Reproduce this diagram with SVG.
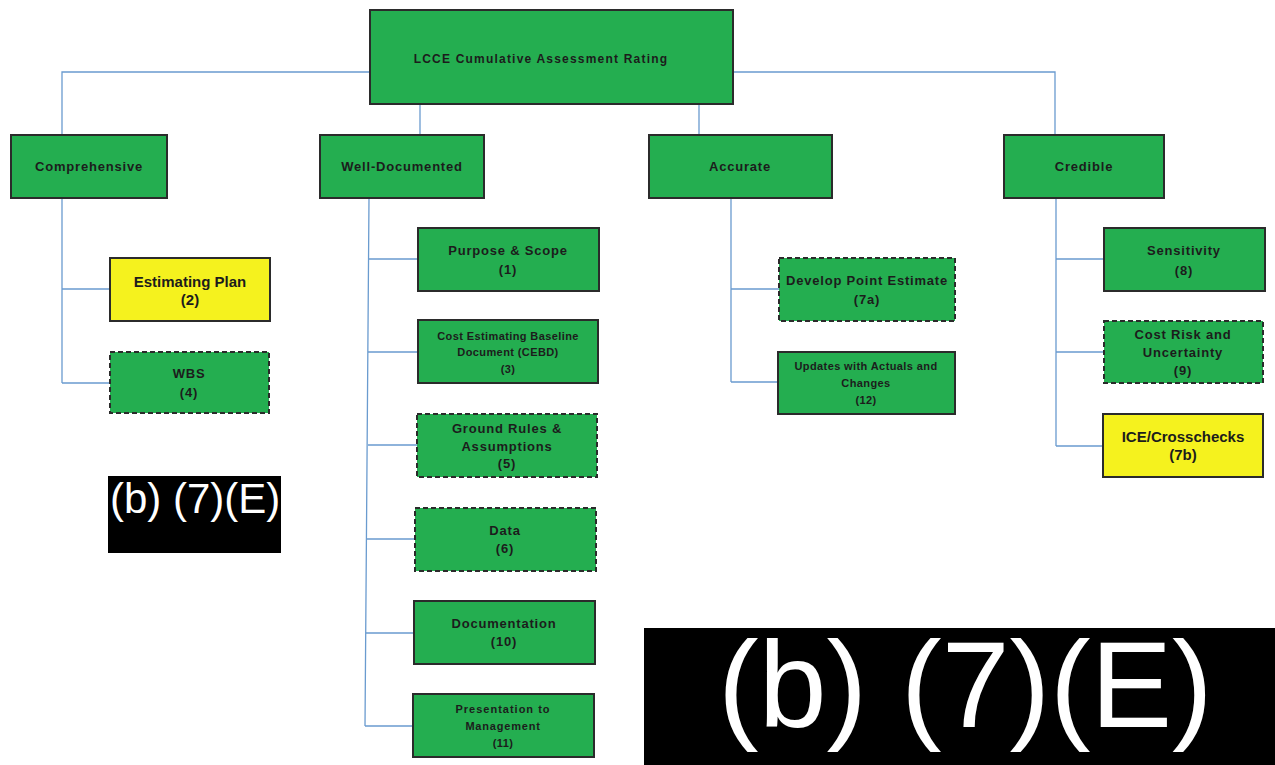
<svg xmlns="http://www.w3.org/2000/svg" width="1275" height="765" viewBox="0 0 1275 765">
<style>
.g{fill:#24ae50;stroke:#2b2b2b;stroke-width:2}
.y{fill:#f5f21e;stroke:#2b2b2b;stroke-width:2}
.d{stroke-dasharray:5 3}
.c{fill:none;stroke:#6a9bcf;stroke-width:1.3}
text{font-family:"Liberation Sans",Arial,sans-serif;font-weight:bold;fill:#1c1c1c;text-anchor:middle}
.t12{font-size:12px;letter-spacing:1.2px}
.t13{font-size:13px;letter-spacing:0.8px}
.t11{font-size:11px;letter-spacing:0.4px}
.t15{font-size:15px}
.r{fill:#000}
.rt{fill:#fff;font-weight:normal;text-anchor:start;letter-spacing:0}
</style>
<rect width="1275" height="765" fill="#fff"/>
<g id="connectors">
<path class="c" d="M62,135 V72 H370 M733,72 H1055 V135 M420,104 V135 M699,104 V135"/>
<path class="c" d="M62,198 V383 M62,289 H110 M62,383 H110"/>
<path class="c" d="M369,198 L365,726 M369,259 H418 M368,352 H418 M368,445 H417 M367,539 H415 M366,633 H414 M365,726 H413"/>
<path class="c" d="M731,198 V382 M731,289 H779 M731,382 H778"/>
<path class="c" d="M1056,198 V446 M1056,259 H1104 M1056,352 H1104 M1056,446 H1103"/>
</g>
<g id="root"><rect class="g" x="370" y="10" width="363" height="94"/><text class="t12" x="541" y="63">LCCE Cumulative Assessment Rating</text></g>
<g id="comprehensive"><rect class="g" x="11" y="135" width="156" height="63"/><text class="t13" x="89" y="171">Comprehensive</text></g>
<g id="well-documented"><rect class="g" x="320" y="135" width="164" height="63"/><text class="t13" x="402" y="171">Well-Documented</text></g>
<g id="accurate"><rect class="g" x="649" y="135" width="183" height="63"/><text class="t13" x="740" y="171">Accurate</text></g>
<g id="credible"><rect class="g" x="1004" y="135" width="160" height="63"/><text class="t13" x="1084" y="171">Credible</text></g>

<g id="estimating-plan"><rect class="y" x="110" y="258" width="160" height="63"/><text class="t15" x="190" y="287">Estimating Plan</text><text class="t15" x="190" y="305">(2)</text></g>
<g id="wbs"><rect class="g d" x="110" y="352" width="159" height="61"/><text class="t13" x="189" y="378">WBS</text><text class="t13" x="189" y="397">(4)</text></g>

<g id="purpose-scope"><rect class="g" x="418" y="228" width="181" height="63"/><text class="t13" x="508" y="255">Purpose &amp; Scope</text><text class="t13" x="508" y="274">(1)</text></g>
<g id="cebd"><rect class="g" x="418" y="320" width="180" height="63"/><text class="t11" x="508" y="340">Cost Estimating Baseline</text><text class="t11" x="508" y="356">Document (CEBD)</text><text class="t11" x="508" y="373">(3)</text></g>
<g id="ground-rules"><rect class="g d" x="417" y="414" width="180" height="63"/><text class="t13" x="507" y="433">Ground Rules &amp;</text><text class="t13" x="507" y="451">Assumptions</text><text class="t13" x="507" y="468">(5)</text></g>
<g id="data"><rect class="g d" x="415" y="508" width="181" height="63"/><text class="t13" x="505" y="535">Data</text><text class="t13" x="505" y="553">(6)</text></g>
<g id="documentation"><rect class="g" x="414" y="601" width="181" height="63"/><text class="t13" x="504" y="628">Documentation</text><text class="t13" x="504" y="646">(10)</text></g>
<g id="presentation"><rect class="g" x="413" y="694" width="181" height="63"/><text class="t11" x="503" y="713" style="letter-spacing:1px">Presentation to</text><text class="t11" x="503" y="730" style="letter-spacing:0.8px">Management</text><text class="t11" x="503" y="747">(11)</text></g>

<g id="develop-point-estimate"><rect class="g d" x="779" y="258" width="176" height="63"/><text class="t13" x="867" y="285">Develop Point Estimate</text><text class="t13" x="867" y="304">(7a)</text></g>
<g id="updates"><rect class="g" x="778" y="352" width="177" height="62"/><text class="t11" x="866" y="370">Updates with Actuals and</text><text class="t11" x="866" y="387">Changes</text><text class="t11" x="866" y="404">(12)</text></g>

<g id="sensitivity"><rect class="g" x="1104" y="228" width="161" height="63"/><text class="t13" x="1184" y="255">Sensitivity</text><text class="t13" x="1184" y="275">(8)</text></g>
<g id="cost-risk"><rect class="g d" x="1104" y="321" width="159" height="62"/><text class="t13" x="1183" y="339">Cost Risk and</text><text class="t13" x="1183" y="357">Uncertainty</text><text class="t13" x="1183" y="375">(9)</text></g>
<g id="ice-crosschecks"><rect class="y" x="1103" y="414" width="160" height="63"/><text class="t15" x="1183" y="442">ICE/Crosschecks</text><text class="t15" x="1183" y="460">(7b)</text></g>

<g id="redaction-small"><rect class="r" x="108" y="476" width="173" height="77"/><text class="rt" x="110" y="513" style="font-size:42px">(b) (7)(E)</text></g>
<g id="redaction-large"><rect class="r" x="644" y="628" width="631" height="137"/><text class="rt" x="718" y="727" style="font-size:122px">(b) (7)(E)</text></g>
</svg>
